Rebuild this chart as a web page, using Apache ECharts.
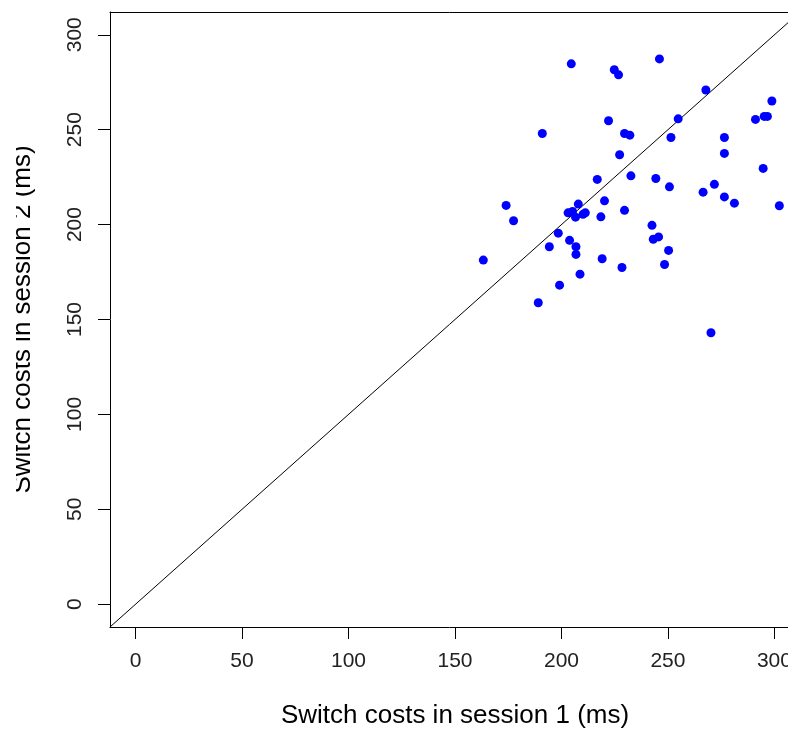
<!DOCTYPE html>
<html>
<head>
<meta charset="utf-8">
<script src="https://cdn.jsdelivr.net/npm/echarts@6/dist/echarts.min.js"></script>
<style>
  html, body { margin: 0; padding: 0; background: #fff; overflow: hidden; }
  #chart { width: 788px; height: 749px; }
</style>
</head>
<body>
<div id="chart"></div>
<script>
// Switch costs (ms) per participant in the two sessions
const session1 = [
  216.8, 232.6, 174.0, 207.9, 220.2, 229.6, 177.5, 203.1, 205.2, 206.6,
  210.1, 211.2, 218.5, 198.5, 194.3, 203.8, 206.8, 206.8, 163.3, 219.1,
  228.4, 208.7, 199.1, 189.1, 204.6, 224.8, 226.8, 222.1, 191.0, 229.6,
  232.1, 227.3, 246.0, 267.8, 298.8, 254.8, 291.1, 295.2, 296.7, 251.4,
  276.5, 276.5, 294.7, 244.3, 250.7, 271.8, 266.5, 276.5, 281.2, 302.3,
  242.5, 243.1, 245.6, 250.3, 248.4, 270.2
];
const session2 = [
  223.8, 225.7, 210.1, 210.8, 212.5, 207.5, 202.0, 206.2, 206.9, 203.9,
  205.4, 206.2, 204.1, 195.5, 188.3, 191.7, 188.3, 184.3, 181.3, 182.0,
  177.4, 173.9, 168.1, 158.8, 284.7, 281.6, 278.9, 254.7, 248.0, 248.0,
  247.1, 236.8, 287.3, 270.9, 265.1, 255.7, 255.4, 257.0, 257.0, 245.9,
  245.9, 237.5, 229.6, 224.3, 219.9, 221.2, 217.1, 214.6, 211.3, 209.9,
  199.6, 192.3, 193.5, 186.4, 179.0, 143.0
];
const tickValues = [0, 50, 100, 150, 200, 250, 300];

// Both axes span 0..300 padded by 4% on each side
const axisMin = -12;
const axisMax = 312;

const points = session1.map((v, i) => [v, session2[i]]);
const identityLine = [[axisMin, axisMin], [axisMax, axisMax]];

const fontFamily = '"Liberation Sans", Arial, sans-serif';
const ink = '#000';

const chart = echarts.init(document.getElementById('chart'), null, { renderer: 'canvas' });

chart.setOption({
  animation: false,
  backgroundColor: '#ffffff',
  grid: {
    left: 110,
    top: 12,
    width: 690,
    height: 615,
    outerBoundsMode: 'none',
    containLabel: false,
    show: false
  },
  xAxis: [
    {
      type: 'value',
      position: 'bottom',
      min: axisMin,
      max: axisMax,
      name: 'Switch costs in session 1 (ms)',
      nameLocation: 'middle',
      nameGap: 76,
      nameTextStyle: { fontFamily, fontSize: 26, color: ink },
      axisLine: { show: true, onZero: false, lineStyle: { color: ink, width: 1 } },
      splitLine: { show: false },
      axisTick: {
        show: true,
        inside: false,
        length: 12,
        customValues: tickValues,
        lineStyle: { color: ink, width: 1 }
      },
      axisLabel: {
        customValues: tickValues,
        fontFamily,
        fontSize: 21,
        color: '#222',
        margin: 24,
        hideOverlap: false
      }
    },
    {
      // frame line along the top of the plot
      type: 'value',
      position: 'top',
      min: axisMin,
      max: axisMax,
      axisLine: { show: true, onZero: false, lineStyle: { color: ink, width: 1 } },
      axisTick: { show: false },
      axisLabel: { show: false },
      splitLine: { show: false }
    }
  ],
  yAxis: {
    type: 'value',
    min: axisMin,
    max: axisMax,
    name: 'Switch costs in session 2 (ms)',
    nameLocation: 'middle',
    nameRotate: 90,
    nameGap: 74,
    nameTextStyle: { fontFamily, fontSize: 26, color: ink },
    axisLine: { show: true, onZero: false, lineStyle: { color: ink, width: 1 } },
    splitLine: { show: false },
    axisTick: {
      show: true,
      inside: false,
      length: 12,
      customValues: tickValues,
      lineStyle: { color: ink, width: 1 }
    },
    axisLabel: {
      customValues: tickValues,
      rotate: 90,
      fontFamily,
      fontSize: 21,
      color: '#222',
      margin: 24
    }
  },
  series: [
    {
      // reference line: session 2 = session 1
      type: 'line',
      xAxisIndex: 0,
      data: identityLine,
      showSymbol: false,
      symbol: 'none',
      clip: true,
      lineStyle: { color: ink, width: 1 },
      silent: true,
      z: 1
    },
    {
      type: 'scatter',
      xAxisIndex: 0,
      data: points,
      symbol: 'circle',
      symbolSize: 9,
      itemStyle: { color: '#0000ff', opacity: 1 },
      z: 2
    }
  ],
  graphic: {
    elements: [
      {
        // white strip along the left edge of the page
        type: 'rect',
        left: 0,
        top: 0,
        z: 100,
        zlevel: 1,
        shape: { x: 0, y: 0, width: 16, height: 749 },
        style: { fill: '#ffffff' }
      }
    ]
  }
});
</script>
</body>
</html>
